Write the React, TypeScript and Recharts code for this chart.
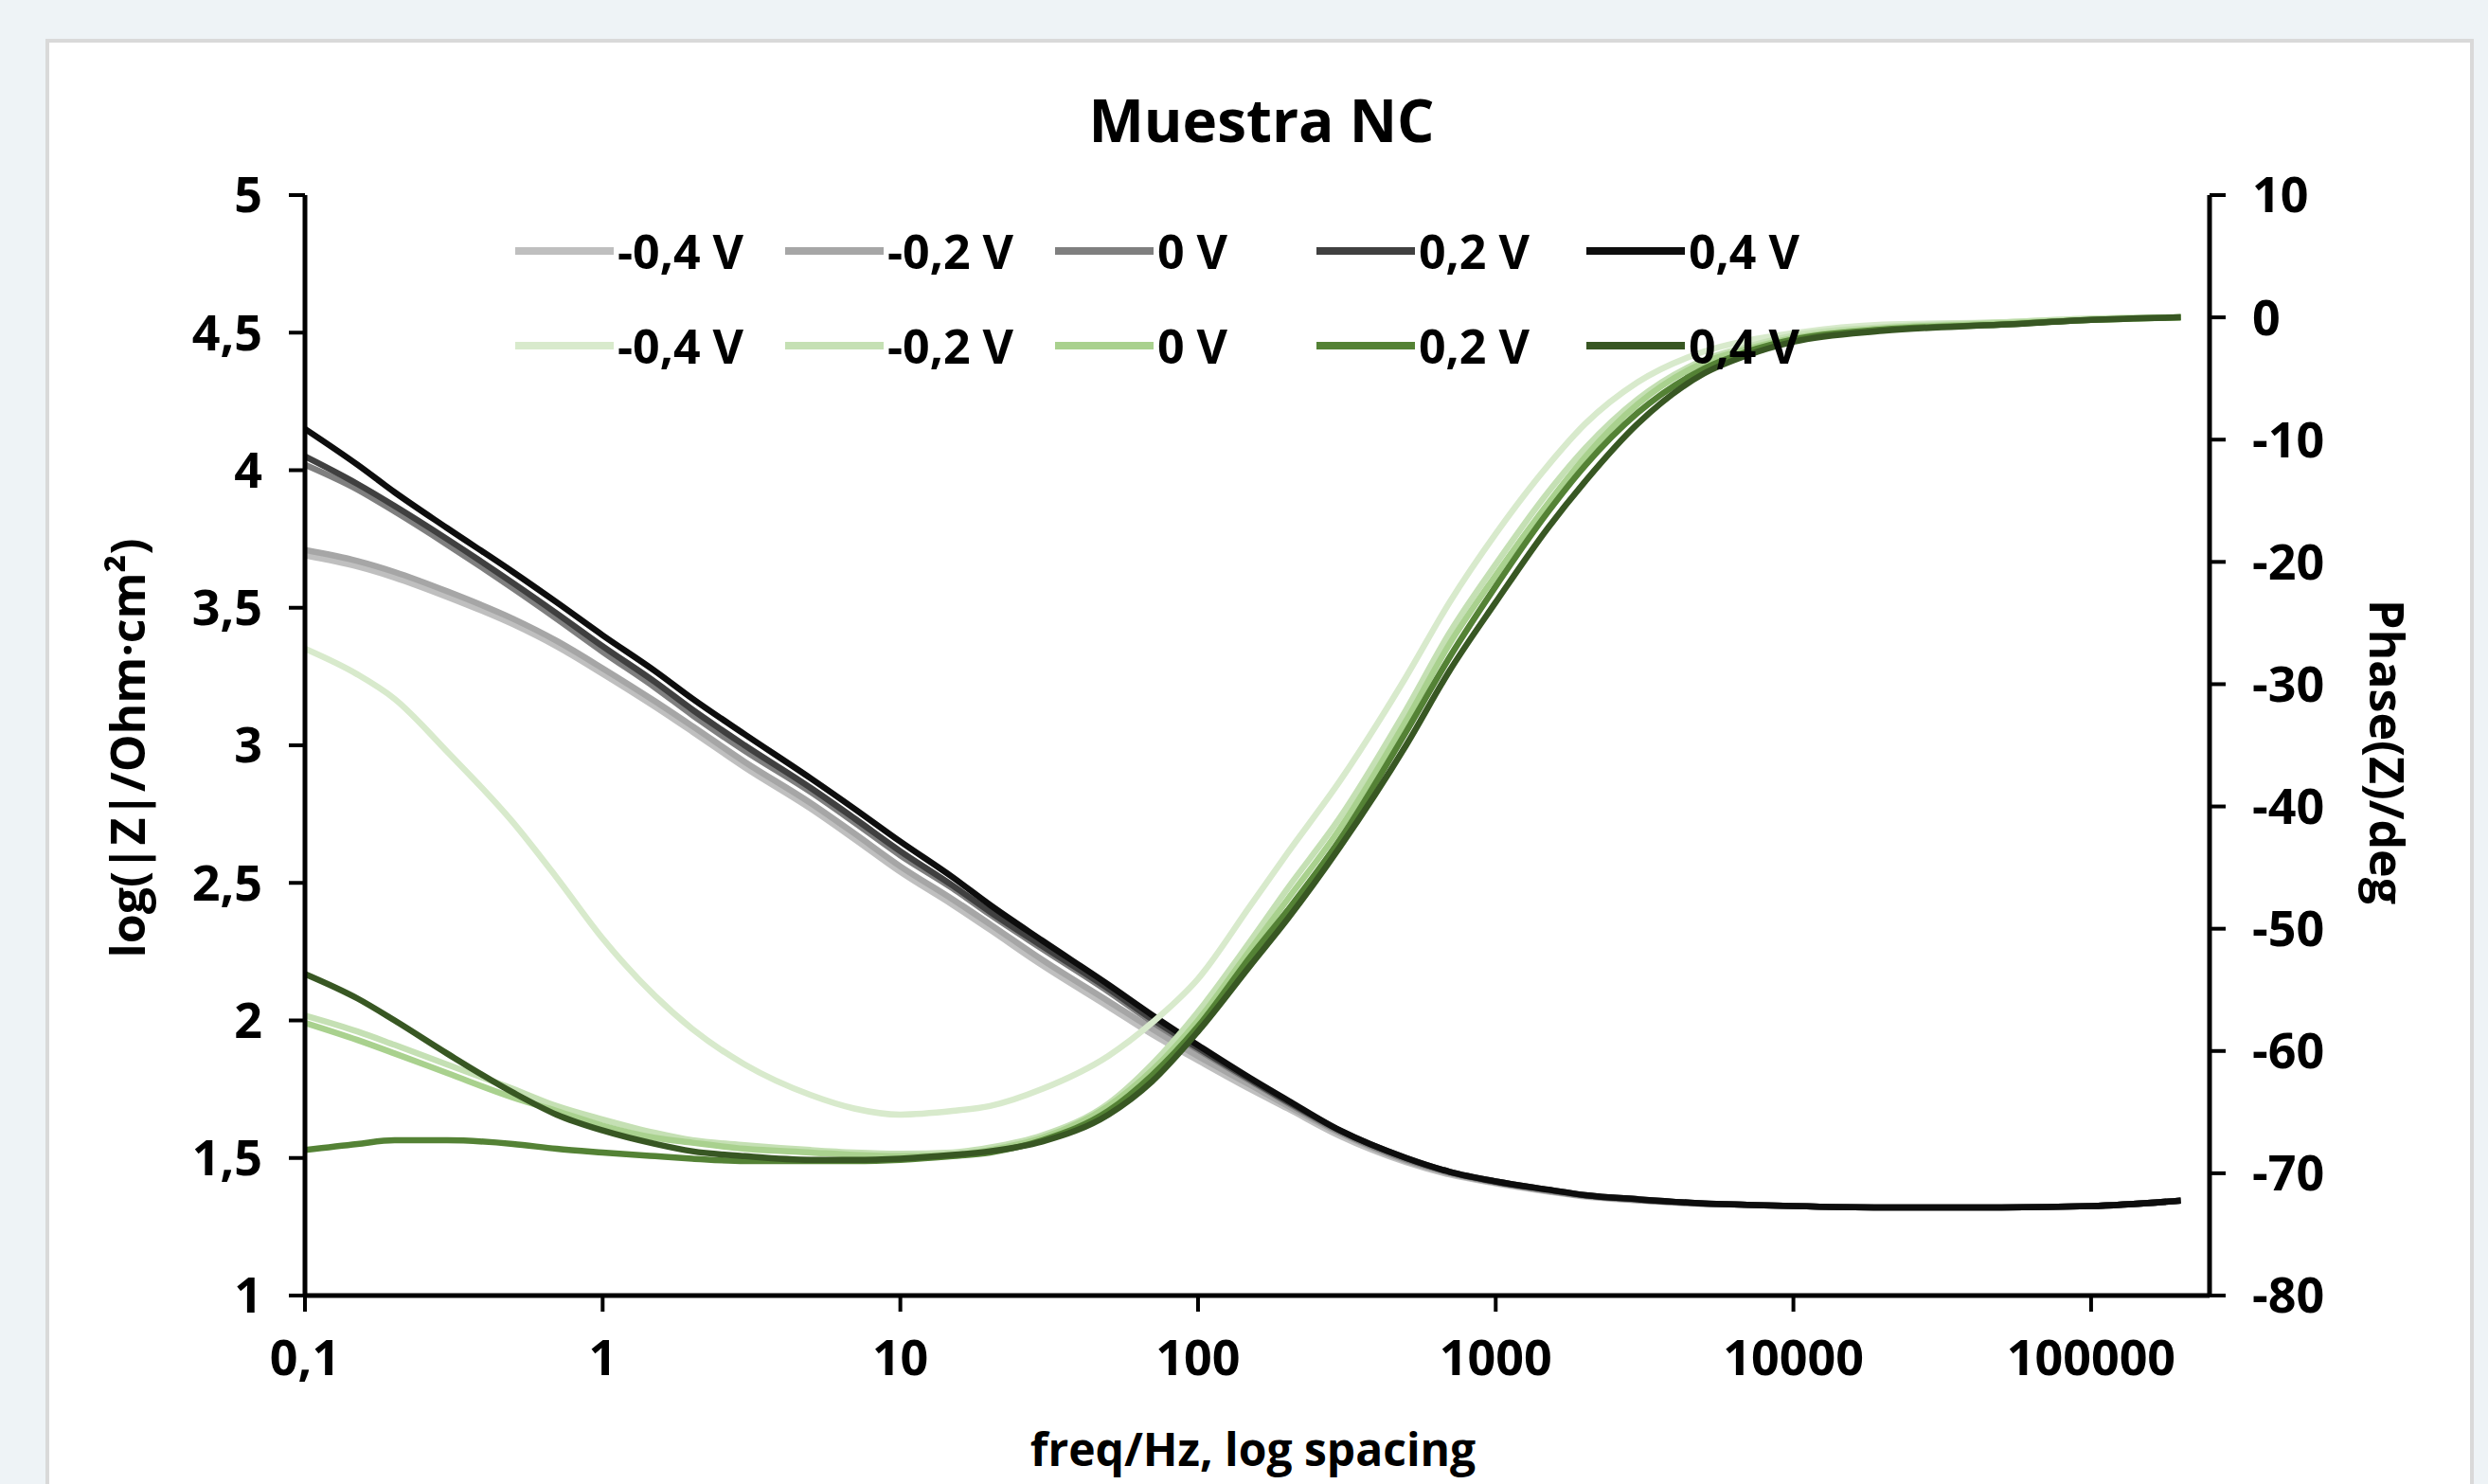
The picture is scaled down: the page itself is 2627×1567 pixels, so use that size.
import React from 'react';
import { LineChart, Line, XAxis, YAxis } from 'recharts';

// frequencies (Hz), log spaced
const freq = [0.1, 0.15, 0.2, 0.3, 0.5, 0.7, 1, 1.5, 2, 3, 5, 7, 10, 15, 20, 30, 50, 70, 100, 150, 200, 300, 500, 700, 1000, 1500, 2000, 3000, 5000, 7000, 10000, 20000, 50000, 100000, 200000];

// log(|Z|) per potential
const zM04 = [3.69, 3.65, 3.61, 3.54, 3.44, 3.36, 3.26, 3.14, 3.05, 2.92, 2.77, 2.66, 2.54, 2.42, 2.33, 2.20, 2.05, 1.95, 1.855, 1.75, 1.68, 1.58, 1.485, 1.44, 1.408, 1.378, 1.36, 1.346, 1.333, 1.33, 1.325, 1.32, 1.32, 1.325, 1.345];
const zM02 = [3.71, 3.67, 3.63, 3.56, 3.46, 3.38, 3.28, 3.16, 3.07, 2.94, 2.79, 2.68, 2.56, 2.44, 2.35, 2.22, 2.07, 1.97, 1.87, 1.765, 1.69, 1.59, 1.49, 1.445, 1.41, 1.38, 1.362, 1.347, 1.333, 1.33, 1.325, 1.32, 1.32, 1.325, 1.345];
const z0 = [4.02, 3.93, 3.85, 3.73, 3.57, 3.46, 3.34, 3.21, 3.11, 2.98, 2.83, 2.72, 2.60, 2.48, 2.385, 2.26, 2.105, 1.995, 1.893, 1.78, 1.70, 1.595, 1.495, 1.447, 1.412, 1.382, 1.363, 1.348, 1.334, 1.33, 1.325, 1.32, 1.32, 1.325, 1.345];
const zP02 = [4.05, 3.95, 3.87, 3.75, 3.59, 3.48, 3.36, 3.23, 3.13, 3.00, 2.845, 2.735, 2.615, 2.49, 2.395, 2.27, 2.115, 2.005, 1.90, 1.785, 1.705, 1.60, 1.50, 1.45, 1.415, 1.385, 1.365, 1.35, 1.335, 1.33, 1.325, 1.32, 1.32, 1.325, 1.345];
const zP04 = [4.15, 4.02, 3.92, 3.79, 3.63, 3.52, 3.40, 3.27, 3.17, 3.04, 2.88, 2.77, 2.65, 2.52, 2.42, 2.29, 2.13, 2.02, 1.91, 1.79, 1.71, 1.60, 1.50, 1.45, 1.415, 1.385, 1.365, 1.35, 1.335, 1.33, 1.325, 1.32, 1.32, 1.325, 1.345];

// phase (deg) per potential
const phM04 = [-27.1, -29.2, -31.2, -35.5, -41.3, -45.8, -50.8, -55.5, -58.2, -61.1, -63.6, -64.7, -65.2, -64.9, -64.5, -63.1, -60.4, -57.7, -54.1, -48.1, -43.8, -37.9, -29.4, -23.3, -17.7, -12.1, -8.7, -5.3, -2.8, -1.9, -1.3, -0.6, -0.4, -0.1, 0.0];
const phM02 = [-57.1, -58.4, -59.5, -61.1, -63.1, -64.5, -65.6, -66.7, -67.3, -67.7, -68.1, -68.3, -68.4, -68.3, -67.9, -66.9, -64.3, -61.1, -56.8, -51.0, -46.7, -40.9, -32.1, -25.8, -20.2, -14.3, -10.7, -6.7, -3.5, -2.4, -1.5, -0.8, -0.4, -0.1, 0.0];
const ph0 = [-57.7, -59.1, -60.2, -61.8, -63.8, -64.9, -66.1, -67.1, -67.5, -68.0, -68.3, -68.5, -68.6, -68.5, -68.1, -67.1, -64.5, -61.6, -57.5, -51.7, -47.6, -41.8, -33.0, -26.7, -21.1, -15.2, -11.4, -7.1, -3.7, -2.6, -1.7, -0.9, -0.5, -0.2, 0.0];
const phP02 = [-68.1, -67.6, -67.3, -67.3, -67.6, -68.0, -68.3, -68.6, -68.8, -69.0, -69.0, -69.0, -68.9, -68.6, -68.3, -67.3, -64.9, -62.0, -58.0, -52.3, -48.5, -42.7, -33.9, -27.8, -22.0, -15.9, -12.1, -7.8, -4.2, -2.8, -1.8, -1.0, -0.6, -0.2, 0.0];
const phP04 = [-53.7, -55.7, -57.5, -60.2, -63.4, -65.2, -66.5, -67.6, -68.2, -68.6, -68.9, -68.9, -68.8, -68.5, -68.2, -67.4, -65.2, -62.5, -58.4, -53.0, -49.2, -43.3, -35.0, -28.9, -23.3, -17.2, -13.4, -8.7, -4.6, -3.1, -2.0, -1.1, -0.6, -0.2, 0.0];

const labels = ['-0,4 V', '-0,2 V', '0 V', '0,2 V', '0,4 V'];
const grayColors = ['#bfbfbf', '#a6a6a6', '#7f7f7f', '#404040', '#0d0d0d'];
const greenColors = ['#d8eacc', '#c5e0b4', '#a9d18e', '#548235', '#385723'];

const xTicks = [0.1, 1, 10, 100, 1000, 10000, 100000];
const zTicks = [1, 1.5, 2, 2.5, 3, 3.5, 4, 4.5, 5];
const phTicks = [-80, -70, -60, -50, -40, -30, -20, -10, 0, 10];

const zSeries = [zM04, zM02, z0, zP02, zP04];
const phSeries = [phM04, phM02, ph0, phP02, phP04];

const data = freq.map((f, i) => {
  const row: any = { f };
  zSeries.forEach((s, k) => { row['z' + k] = s[i]; });
  phSeries.forEach((s, k) => { row['p' + k] = s[i]; });
  return row;
});

const FONT = "'Open Sans', 'DejaVu Sans', sans-serif";
const comma = (v: number) => String(v).replace('.', ',');
const tickStyle = { fontSize: 52, fill: '#000', fontFamily: FONT, fontWeight: 'bold' as const };

const legendCols = [544, 829, 1114, 1390, 1675];
const legendRows = [265, 365];

const App: React.FC = () => {
  return (
    <div style={{ position: 'fixed', left: 0, top: 0, width: 2627, height: 1567, background: '#eef3f6', overflow: 'hidden', fontFamily: FONT }}>
      <div style={{ position: 'absolute', left: 48, top: 41, width: 2556, height: 1600, background: '#fff', border: '4px solid #d9d9d9' }} />
      <div style={{ position: 'absolute', left: 0, top: 0 }}>
        <LineChart width={2627} height={1567} data={data} margin={{ top: 206, right: 194, bottom: 119, left: 222 }}>
          <XAxis
            dataKey="f"
            type="number"
            scale="log"
            domain={[0.1, 250000]}
            ticks={xTicks}
            allowDataOverflow
            tickFormatter={comma}
            tick={tickStyle}
            height={80}
            tickSize={17}
            tickMargin={30}
            axisLine={{ stroke: '#000', strokeWidth: 5 }}
            tickLine={{ stroke: '#000', strokeWidth: 4 }}
          />
          <YAxis
            yAxisId="z"
            domain={[1, 5]}
            ticks={zTicks}
            tickFormatter={comma}
            tick={tickStyle}
            width={100}
            tickSize={17}
            tickMargin={28}
            axisLine={{ stroke: '#000', strokeWidth: 5 }}
            tickLine={{ stroke: '#000', strokeWidth: 4 }}
          />
          <YAxis
            yAxisId="p"
            orientation="right"
            domain={[-80, 10]}
            ticks={phTicks}
            tick={tickStyle}
            width={100}
            tickSize={17}
            tickMargin={28}
            axisLine={{ stroke: '#000', strokeWidth: 5 }}
            tickLine={{ stroke: '#000', strokeWidth: 4 }}
          />
          {zSeries.map((_, k) => (
            <Line key={'z' + k} yAxisId="z" dataKey={'z' + k} name={labels[k]} type="monotone" stroke={grayColors[k]} strokeWidth={6.5} dot={false} isAnimationActive={false} />
          ))}
          {phSeries.map((_, k) => (
            <Line key={'p' + k} yAxisId="p" dataKey={'p' + k} name={labels[k]} type="monotone" stroke={greenColors[k]} strokeWidth={6.5} dot={false} isAnimationActive={false} />
          ))}
        </LineChart>
      </div>

      <div style={{ position: 'absolute', left: 1332, top: 126, transform: 'translate(-50%, -50%)', fontSize: 62, fontWeight: 'bold', whiteSpace: 'nowrap', color: '#000' }}>
        Muestra NC
      </div>

      {[grayColors, greenColors].map((cols, r) =>
        labels.map((lab, k) => (
          <div key={r + '-' + k} style={{ position: 'absolute', left: legendCols[k], top: legendRows[r], transform: 'translateY(-50%)', display: 'flex', alignItems: 'center', whiteSpace: 'nowrap' }}>
            <div style={{ width: 104, height: 8, background: cols[k] }} />
            <span style={{ marginLeft: 4, fontSize: 50, fontWeight: 'bold', color: '#000' }}>{lab}</span>
          </div>
        ))
      )}

      <div style={{ position: 'absolute', left: 134, top: 790, transform: 'translate(-50%, -50%) rotate(-90deg)', fontSize: 50, fontWeight: 'bold', whiteSpace: 'nowrap', color: '#000' }}>
        log(|Z|/Ohm·cm²)
      </div>
      <div style={{ position: 'absolute', left: 2521, top: 794, transform: 'translate(-50%, -50%) rotate(90deg)', fontSize: 50, fontWeight: 'bold', whiteSpace: 'nowrap', color: '#000' }}>
        Phase(Z)/deg
      </div>
      <div style={{ position: 'absolute', left: 1323, top: 1530, transform: 'translate(-50%, -50%)', fontSize: 48, fontWeight: 'bold', whiteSpace: 'nowrap', color: '#000', lineHeight: 1 }}>
        freq/Hz, log spacing
      </div>
    </div>
  );
};

export default App;
